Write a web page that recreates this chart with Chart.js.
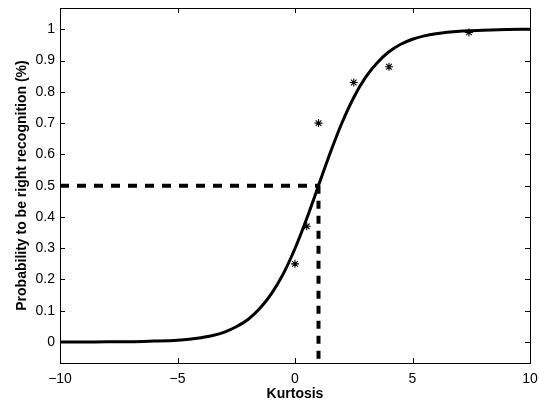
<!DOCTYPE html>
<html>
<head>
<meta charset="utf-8">
<script src="https://cdn.jsdelivr.net/npm/chart.js@4.4.1/dist/chart.umd.min.js"></script>
<style>
  html, body { margin: 0; padding: 0; background: #fff; }
  #wrap { width: 539px; height: 404px; position: relative; }
</style>
</head>
<body>
<div id="wrap"><canvas id="chart"></canvas></div>
<script>
/* Kurtosis vs recognition probability — fitted curve, measured points, 50% threshold */

// fitted curve
const curveX = [-10, -9, -8, -7, -6, -5, -4.5, -4, -3.5, -3, -2.5, -2, -1.5, -1, -0.5, 0,
                0.5, 1, 1.5, 2, 2.5, 3, 3.5, 4, 4.5, 5, 5.5, 6, 7, 8, 9, 10];
const curveY = [0.000, 0.000, 0.001, 0.001, 0.003, 0.006, 0.009, 0.014, 0.021, 0.032, 0.049, 0.072, 0.107, 0.155, 0.218, 0.299,
                0.395, 0.500, 0.605, 0.701, 0.782, 0.846, 0.893, 0.928, 0.952, 0.968, 0.979, 0.986, 0.994, 0.997, 0.999, 1.000];

// measured points (asterisks)
const pointX = [0, 0.5, 1, 2.5, 4, 7.4];
const pointY = [0.25, 0.37, 0.70, 0.83, 0.88, 0.99];

// dashed threshold lines
const hLineX = [-10, 1];
const hLineY = [0.5, 0.5];
const vLineX = [1, 1];
const vLineY = [0.5, -0.067];

const xTicks = [-10, -5, 0, 5, 10];
const yTicks = [0, 0.1, 0.2, 0.3, 0.4, 0.5, 0.6, 0.7, 0.8, 0.9, 1];

const FONT = "'Liberation Sans', Arial, Helvetica, sans-serif";

const zip = (xs, ys) => xs.map((x, i) => ({ x, y: ys[i] }));

// box + inward ticks, MATLAB style
const boxPlugin = {
  id: 'box',
  afterDraw(chart) {
    const { ctx, chartArea: a, scales } = chart;
    const len = 5;
    ctx.save();
    ctx.strokeStyle = '#000';
    ctx.lineWidth = 1;
    ctx.beginPath();
    xTicks.forEach(v => {
      const px = Math.round(scales.x.getPixelForValue(v)) + 0.5;
      ctx.moveTo(px, a.bottom); ctx.lineTo(px, a.bottom - len);
      ctx.moveTo(px, a.top); ctx.lineTo(px, a.top + len);
    });
    yTicks.forEach(v => {
      const py = Math.round(scales.y.getPixelForValue(v)) + 0.5;
      ctx.moveTo(a.left, py); ctx.lineTo(a.left + len, py);
      ctx.moveTo(a.right, py); ctx.lineTo(a.right - len, py);
    });
    ctx.stroke();
    ctx.strokeRect(Math.round(a.left) + 0.5, Math.round(a.top) + 0.5,
                   Math.round(a.right - a.left), Math.round(a.bottom - a.top));
    ctx.restore();
  }
};

new Chart(document.getElementById('chart'), {
  type: 'scatter',
  data: {
    datasets: [
      {
        data: zip(hLineX, hLineY),
        showLine: true,
        borderColor: '#000',
        borderWidth: 4,
        borderDash: [9, 8],
        pointRadius: 0
      },
      {
        data: zip(vLineX, vLineY),
        showLine: true,
        borderColor: '#000',
        borderWidth: 4,
        borderDash: [8, 7],
        pointRadius: 0
      },
      {
        data: zip(curveX, curveY),
        showLine: true,
        borderColor: '#000',
        borderWidth: 3,
        cubicInterpolationMode: 'monotone',
        pointRadius: 0
      },
      {
        data: zip(pointX, pointY),
        showLine: false,
        pointStyle: 'star',
        pointRadius: 4,
        borderColor: '#000',
        borderWidth: 1.1,
        backgroundColor: '#000'
      }
    ]
  },
  options: {
    responsive: true,
    maintainAspectRatio: false,
    animation: false,
    layout: { padding: { top: 8, right: 9, left: 0, bottom: 0 } },
    plugins: {
      legend: { display: false },
      tooltip: { enabled: false }
    },
    scales: {
      x: {
        type: 'linear',
        min: -10,
        max: 10,
        afterBuildTicks: s => { s.ticks = xTicks.map(v => ({ value: v })); },
        afterFit: s => { s.height = 41; s.paddingLeft = 0; s.paddingRight = 0; },
        grid: { display: false, drawTicks: false },
        border: { display: false },
        ticks: {
          padding: 8,
          color: '#000',
          font: { family: FONT, size: 14 },
          callback: v => (v < 0 ? '\u2212' + Math.abs(v) : String(v))
        },
        title: {
          display: true,
          text: 'Kurtosis',
          color: '#000',
          font: { family: FONT, size: 14, weight: 'bold' },
          padding: { top: 0, bottom: 1 }
        }
      },
      y: {
        type: 'linear',
        min: -0.067,
        max: 1.068,
        afterBuildTicks: s => { s.ticks = yTicks.map(v => ({ value: v })); },
        afterFit: s => { s.width = 60; s.paddingTop = 0; s.paddingBottom = 0; },
        grid: { display: false, drawTicks: false },
        border: { display: false },
        ticks: {
          padding: 5,
          color: '#000',
          font: { family: FONT, size: 14 },
          callback: v => (v === 0 || v === 1 ? String(v) : v.toFixed(1))
        },
        title: {
          display: true,
          text: 'Probability to be right recognition (%)',
          color: '#000',
          font: { family: FONT, size: 14, weight: 'bold' },
          padding: { top: 14, bottom: 0 }
        }
      }
    }
  },
  plugins: [boxPlugin]
});
</script>
</body>
</html>
